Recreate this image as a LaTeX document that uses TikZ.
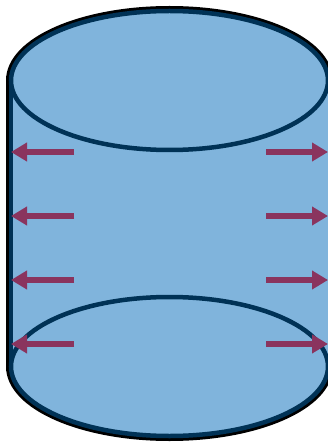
\documentclass[tikz,border=0pt]{standalone}
\usetikzlibrary{arrows.meta}
\definecolor{tankblue}{RGB}{128,180,220}
\definecolor{tanknavy}{RGB}{0,50,86}
\definecolor{flowred}{RGB}{138,52,94}
\tikzset{
  rim/.style={draw=tanknavy, line width=4.5pt},
  halo/.style={draw=black, line width=10pt},
  push/.style={draw=flowred, line width=6pt,
    -{Triangle[length=16pt,width=18pt]}},
}
\begin{document}
\begin{tikzpicture}[x=1pt,y=-1pt]
  \useasboundingbox (0,0) rectangle (327,446);
  \fill[white] (0,0) rectangle (327,446);
  % cylinder body: left side, lower front arc, right side, upper back arc
  \def\body{(11,80.5) -- (11,366.5) arc[start angle=180,end angle=360,x radius=158.5,y radius=-69.5]
     -- (328,80.5) arc[start angle=0,end angle=180,x radius=158.5,y radius=-69.5] -- cycle}
  \draw[halo] \body;
  \fill[tankblue] \body;
  % rims and visible side
  \draw[rim] (169.5,80.5) ellipse[x radius=158.5,y radius=69.5];
  \draw[rim] (169.5,366.5) ellipse[x radius=158.5,y radius=69.5];
  \draw[rim] (11,80.5) -- (11,366.5);
  % pressure arrows
  \foreach \i/\y in {1/152,2/216,3/280,4/344}{
    \coordinate (lt\i) at (74,\y);
    \coordinate (lh\i) at (11,\y);
    \coordinate (rt\i) at (266,\y);
    \coordinate (rh\i) at (328,\y);
    \draw[push] (lt\i) -- (lh\i);
    \draw[push] (rt\i) -- (rh\i);
  }
\end{tikzpicture}
\end{document}
